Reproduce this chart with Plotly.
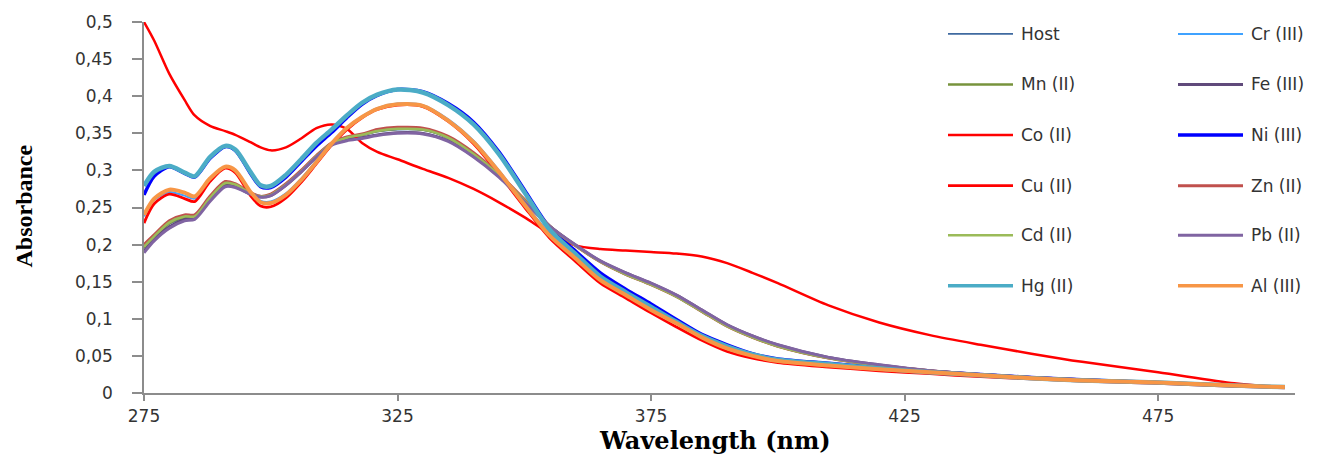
import plotly.graph_objects as go

wavelength = [275, 277, 280, 283, 285, 288, 291, 293, 296, 298, 300, 303, 306, 309, 312, 315, 318, 321,
              325, 330, 335, 340, 345, 350, 355, 360, 365, 370, 375, 380, 385, 390, 395, 400, 410, 420,
              430, 440, 450, 460, 475, 490, 500]

host = [0.195, 0.209, 0.228, 0.236, 0.237, 0.261, 0.281, 0.279, 0.269, 0.265, 0.267, 0.281, 0.299, 0.319, 0.336, 0.343, 0.347, 0.352,
        0.355, 0.354, 0.343, 0.321, 0.293, 0.259, 0.225, 0.199, 0.177, 0.161, 0.147, 0.131, 0.111, 0.091, 0.076, 0.064, 0.048, 0.037,
        0.030, 0.025, 0.021, 0.018, 0.014, 0.010, 0.008]
cr = [0.238, 0.260, 0.271, 0.266, 0.262, 0.288, 0.304, 0.299, 0.272, 0.259, 0.258, 0.269, 0.289, 0.313, 0.337, 0.358, 0.373, 0.384,
      0.390, 0.388, 0.369, 0.340, 0.300, 0.256, 0.215, 0.185, 0.155, 0.135, 0.115, 0.096, 0.077, 0.062, 0.051, 0.044, 0.038, 0.033,
      0.028, 0.024, 0.020, 0.017, 0.014, 0.010, 0.008]
mn = [0.196, 0.210, 0.229, 0.237, 0.237, 0.262, 0.282, 0.280, 0.269, 0.265, 0.267, 0.281, 0.299, 0.319, 0.336, 0.344, 0.348, 0.353,
      0.356, 0.355, 0.344, 0.322, 0.294, 0.260, 0.225, 0.199, 0.177, 0.160, 0.146, 0.130, 0.110, 0.090, 0.075, 0.063, 0.047, 0.037,
      0.030, 0.025, 0.021, 0.018, 0.014, 0.010, 0.008]
fe = [0.191, 0.207, 0.224, 0.234, 0.236, 0.260, 0.279, 0.278, 0.268, 0.264, 0.266, 0.280, 0.298, 0.318, 0.335, 0.341, 0.344, 0.348,
      0.351, 0.350, 0.340, 0.319, 0.292, 0.259, 0.225, 0.200, 0.178, 0.162, 0.148, 0.132, 0.112, 0.092, 0.077, 0.065, 0.048, 0.038,
      0.030, 0.025, 0.021, 0.018, 0.014, 0.010, 0.008]
co = [0.500, 0.475, 0.430, 0.395, 0.374, 0.360, 0.353, 0.348, 0.338, 0.331, 0.327, 0.331, 0.343, 0.357, 0.362, 0.356, 0.337, 0.325,
      0.315, 0.302, 0.290, 0.275, 0.257, 0.237, 0.215, 0.199, 0.194, 0.192, 0.190, 0.188, 0.184, 0.175, 0.162, 0.148, 0.118, 0.095,
      0.078, 0.065, 0.053, 0.042, 0.028, 0.013, 0.007]
ni = [0.267, 0.292, 0.305, 0.296, 0.291, 0.316, 0.332, 0.327, 0.296, 0.278, 0.277, 0.291, 0.312, 0.333, 0.351, 0.371, 0.389, 0.401,
      0.409, 0.406, 0.390, 0.365, 0.325, 0.274, 0.223, 0.192, 0.162, 0.140, 0.120, 0.099, 0.079, 0.065, 0.053, 0.046, 0.040, 0.034,
      0.029, 0.025, 0.021, 0.018, 0.014, 0.010, 0.008]
cu = [0.229, 0.255, 0.268, 0.262, 0.258, 0.285, 0.303, 0.297, 0.266, 0.252, 0.251, 0.263, 0.284, 0.309, 0.334, 0.355, 0.371, 0.382,
      0.388, 0.386, 0.366, 0.336, 0.295, 0.251, 0.209, 0.178, 0.148, 0.128, 0.108, 0.089, 0.071, 0.056, 0.047, 0.041, 0.035, 0.030,
      0.026, 0.022, 0.019, 0.016, 0.013, 0.009, 0.007]
zn = [0.200, 0.213, 0.232, 0.240, 0.240, 0.265, 0.285, 0.282, 0.270, 0.265, 0.268, 0.282, 0.300, 0.320, 0.337, 0.345, 0.349, 0.355,
      0.358, 0.357, 0.346, 0.324, 0.295, 0.261, 0.225, 0.199, 0.177, 0.160, 0.146, 0.130, 0.110, 0.090, 0.075, 0.063, 0.047, 0.037,
      0.030, 0.025, 0.021, 0.018, 0.014, 0.010, 0.008]
cd = [0.197, 0.211, 0.230, 0.238, 0.238, 0.263, 0.283, 0.281, 0.269, 0.265, 0.267, 0.281, 0.299, 0.319, 0.336, 0.344, 0.348, 0.353,
      0.356, 0.355, 0.344, 0.322, 0.294, 0.260, 0.225, 0.199, 0.177, 0.160, 0.146, 0.130, 0.110, 0.090, 0.075, 0.063, 0.047, 0.037,
      0.030, 0.025, 0.021, 0.018, 0.014, 0.010, 0.008]
pb = [0.189, 0.205, 0.222, 0.232, 0.234, 0.258, 0.278, 0.277, 0.268, 0.264, 0.266, 0.280, 0.298, 0.318, 0.334, 0.340, 0.343, 0.347,
      0.350, 0.349, 0.339, 0.318, 0.291, 0.258, 0.225, 0.200, 0.178, 0.162, 0.148, 0.132, 0.112, 0.092, 0.077, 0.065, 0.048, 0.038,
      0.030, 0.025, 0.021, 0.018, 0.014, 0.010, 0.008]
hg = [0.279, 0.298, 0.306, 0.297, 0.292, 0.318, 0.333, 0.328, 0.298, 0.280, 0.279, 0.294, 0.315, 0.337, 0.355, 0.374, 0.391, 0.402,
      0.409, 0.405, 0.388, 0.362, 0.322, 0.271, 0.220, 0.188, 0.157, 0.136, 0.116, 0.096, 0.077, 0.063, 0.052, 0.045, 0.039, 0.033,
      0.028, 0.024, 0.020, 0.017, 0.014, 0.010, 0.008]
al = [0.240, 0.262, 0.274, 0.270, 0.265, 0.289, 0.305, 0.300, 0.271, 0.257, 0.256, 0.267, 0.287, 0.311, 0.336, 0.357, 0.372, 0.383,
      0.389, 0.387, 0.367, 0.338, 0.298, 0.254, 0.212, 0.182, 0.152, 0.132, 0.112, 0.094, 0.075, 0.060, 0.050, 0.043, 0.037, 0.032,
      0.028, 0.024, 0.020, 0.017, 0.014, 0.010, 0.008]

names = ["Host", "Cr (III)", "Mn (II)", "Fe (III)", "Co (II)", "Ni (III)",
         "Cu (II)", "Zn (II)", "Cd (II)", "Pb (II)", "Hg (II)", "Al (III)"]
series = [host, cr, mn, fe, co, ni, cu, zn, cd, pb, hg, al]
colors = ["#3F6AA0", "#3FA2FF", "#77933C", "#604A7B", "#FF0000", "#0000FF",
          "#FF0000", "#C0504D", "#9BBB59", "#8064A2", "#4BACC6", "#F79646"]
widths = [1.6, 2.0, 2.5, 2.8, 2.5, 3.5, 2.8, 3.0, 2.5, 3.0, 4.5, 4.0]

x_ticks = [275, 325, 375, 425, 475]

fig = go.Figure()
for name, ys, col, w in zip(names, series, colors, widths):
    fig.add_trace(go.Scatter(x=wavelength, y=ys, mode="lines", name=name,
                             line=dict(color=col, width=w, shape="spline", smoothing=0.8),
                             showlegend=False))

# plot area in pixels
L, R, T, B = 144, 1295, 19, 393
W, H = R - L, B - T
def px(xp):
    return (xp - L) / W
def py(yp):
    return (B - yp) / H

shapes = []
annotations = []
row_y = [31, 82, 133, 184, 234, 285]
col_x = [(948, 1013, 1019), (1178, 1243, 1249)]
for i, (name, col, w) in enumerate(zip(names, colors, widths)):
    c = i % 2
    r = i // 2
    x0, x1, xt = col_x[c]
    yy = py(row_y[r])
    shapes.append(dict(type="line", xref="paper", yref="paper", x0=px(x0), x1=px(x1), y0=yy, y1=yy,
                       line=dict(color=col, width=min(w, 3.5))))
    annotations.append(dict(xref="paper", yref="paper", x=px(xt), y=yy, text=name, showarrow=False,
                            xanchor="left", yanchor="middle",
                            font=dict(family="DejaVu Sans", size=17, color="#333333")))

annotations.append(dict(xref="paper", yref="paper", x=px(24), y=py(205), text="<b>Absorbance</b>",
                        textangle=-90, showarrow=False, xanchor="center", yanchor="middle",
                        font=dict(family="Liberation Serif", size=24, color="#000000")))
annotations.append(dict(xref="paper", yref="paper", x=px(715), y=py(457), text="<b>Wavelength (nm)</b>",
                        showarrow=False, xanchor="center", yanchor="bottom", borderpad=0,
                        font=dict(family="DejaVu Serif", size=24, color="#000000")))

fig.update_layout(
    width=1331, height=457,
    margin=dict(l=L, r=1331 - R, t=T, b=457 - B),
    paper_bgcolor="white", plot_bgcolor="white",
    separators=", ",
    shapes=shapes, annotations=annotations,
    xaxis=dict(range=[275, 502], tickmode="array", tickvals=x_ticks, ticktext=[str(v) for v in x_ticks],
               showgrid=False, zeroline=False, showline=True, linecolor="#8C8C8C", linewidth=1.5,
               ticks="outside", ticklen=6, tickwidth=1.5, tickcolor="#8C8C8C",
               ticklabelstandoff=1,
               tickfont=dict(family="DejaVu Sans", size=17, color="#333333")),
    yaxis=dict(range=[0, 0.5], dtick=0.05, tick0=0, showgrid=False, zeroline=False,
               showline=True, linecolor="#8C8C8C", linewidth=1.5,
               ticks="outside", ticklen=10, tickwidth=1.5, tickcolor="#8C8C8C",
               ticklabelstandoff=16,
               tickfont=dict(family="DejaVu Sans", size=17, color="#333333")),
)

fig.write_html("out.html")
